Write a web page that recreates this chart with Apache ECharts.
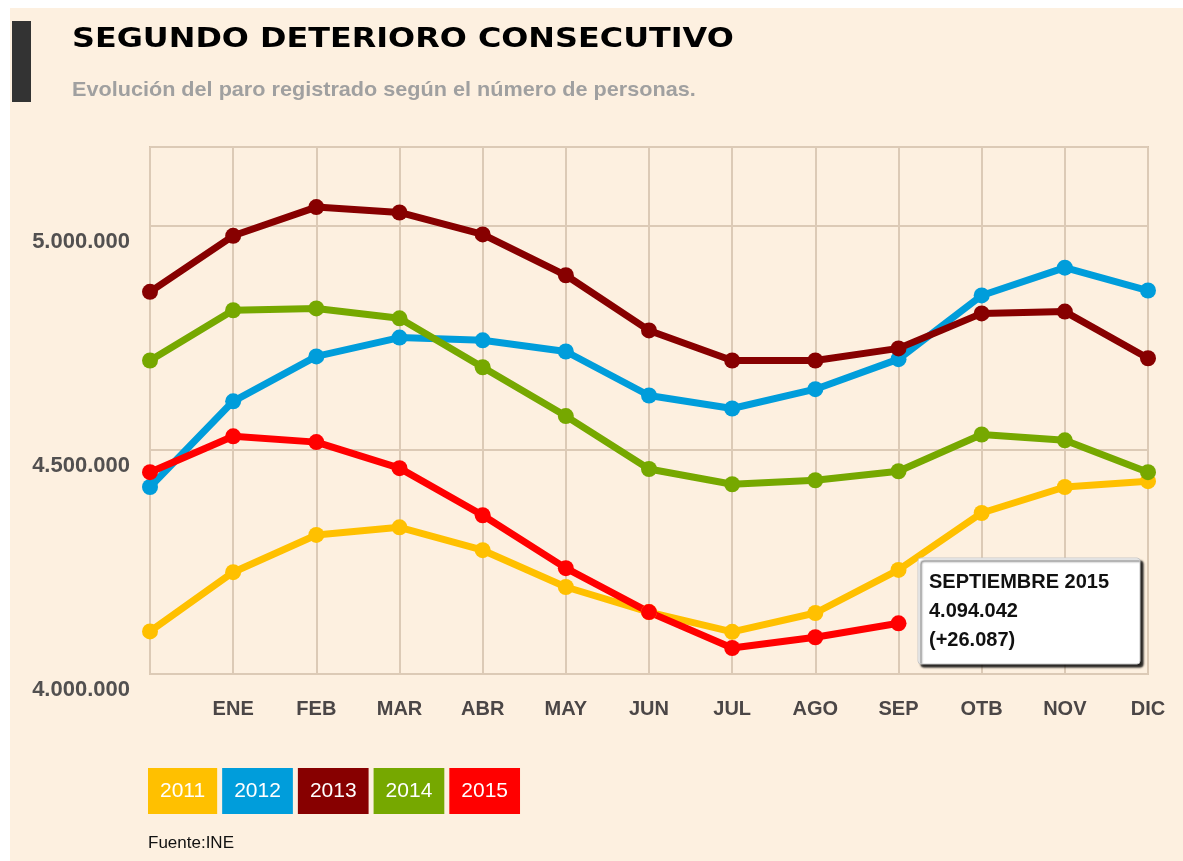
<!DOCTYPE html>
<html>
<head>
<meta charset="utf-8">
<title>Segundo deterioro consecutivo</title>
<script src="https://cdn.jsdelivr.net/npm/echarts@6/dist/echarts.min.js"></script>
<style>
	html, body { margin: 0; padding: 0; background: #fff; }
	#main { width: 1183px; height: 861px; }
</style>
</head>
<body>
<div id="main"></div>
<script>
// meses (el primero es diciembre del año anterior, sin etiqueta)
var meses = ['', 'ENE', 'FEB', 'MAR', 'ABR', 'MAY', 'JUN', 'JUL', 'AGO', 'SEP', 'OTB', 'NOV', 'DIC'];
var anios = ['2011', '2012', '2013', '2014', '2015'];
var colores = ['#FFC000', '#009DDB', '#870000', '#76A800', '#FF0000'];

// paro registrado, personas
var paro2011 = [4095000, 4227000, 4310000, 4327000, 4276000, 4194000, 4138000, 4094000, 4136000, 4232000, 4359000, 4417000, 4430000];
var paro2012 = [4417000, 4608000, 4708000, 4750000, 4744000, 4719000, 4621000, 4592000, 4635000, 4702000, 4844000, 4906000, 4855000];
var paro2013 = [4852000, 4977000, 5041000, 5029000, 4980000, 4889000, 4766000, 4699000, 4699000, 4726000, 4804000, 4808000, 4704000];
var paro2014 = [4699000, 4811000, 4815000, 4793000, 4684000, 4575000, 4457000, 4423000, 4432000, 4452000, 4534000, 4521000, 4450000];
var paro2015 = [4450000, 4530000, 4517000, 4459000, 4354000, 4236000, 4138000, 4058000, 4082000, 4113000];

// ticks del eje y
var yMin = 4000000;
var yMax = 5175000;
var yPaso = 500000;

var notaSep = ['SEPTIEMBRE 2015', '4.094.042', '(+26.087)'];

function puntos(n) {
	return String(n).replace(/\B(?=(\d{3})+(?!\d))/g, '.');
}

var myChart = echarts.init(document.getElementById('main'));
var datos = [paro2011, paro2012, paro2013, paro2014, paro2015];
var gridColor = '#dccab6';

var option = {
	backgroundColor: '#FDF0E0',
	animation: false,
	grid: {
		left: 150,
		right: 35,
		top: 147,
		bottom: 187,
		show: true,
		borderColor: '#d6c3ad',
		borderWidth: 2
	},
	legend: {
		left: 143,
		top: 768,
		padding: 0,
		orient: 'horizontal',
		itemWidth: 0,
		itemHeight: 46,
		itemGap: 0,
		selectedMode: false,
		data: anios.map(function (a, i) {
			return {
				name: a,
				icon: 'none',
				textStyle: {
					color: '#fff',
					fontSize: 21,
					fontFamily: 'Liberation Sans',
					backgroundColor: colores[i],
					padding: [13, 12, 12, 12],
					lineHeight: 21
				}
			};
		})
	},
	xAxis: {
		type: 'category',
		boundaryGap: false,
		data: meses,
		axisLine: { lineStyle: { color: gridColor, width: 2 } },
		axisTick: { show: false },
		splitLine: { show: true, lineStyle: { color: gridColor, width: 2 } },
		axisLabel: {
			interval: 0,
			margin: 25,
			color: '#4b4646',
			fontSize: 20,
			fontWeight: 'bold',
			fontFamily: 'Liberation Sans'
		}
	},
	yAxis: {
		type: 'value',
		min: yMin,
		max: yMax,
		interval: yPaso,
		axisLine: { show: false },
		axisTick: { show: false },
		splitLine: { show: true, lineStyle: { color: gridColor, width: 2 } },
		axisLabel: {
			margin: 20,
			color: '#525050',
			fontSize: 22,
			fontWeight: 'bold',
			fontFamily: 'Liberation Sans',
			verticalAlign: 'top',
			lineHeight: 32,
			formatter: function (v) {
				return v % yPaso === 0 ? puntos(v) : '';
			}
		}
	},
	series: anios.map(function (a, i) {
		return {
			name: a,
			type: 'line',
			data: datos[i],
			symbol: 'circle',
			symbolSize: 16,
			lineStyle: { width: 7, color: colores[i] },
			itemStyle: { color: colores[i] },
			emphasis: { disabled: true }
		};
	}),
	graphic: [
		// bordes blancos de la imagen
		{ type: 'rect', shape: { x: 0, y: 0, width: 1183, height: 8 }, style: { fill: '#fff' } },
		{ type: 'rect', shape: { x: 0, y: 0, width: 10, height: 861 }, style: { fill: '#fff' } },
		// barra oscura del titulo
		{ type: 'rect', shape: { x: 12, y: 21, width: 19, height: 81 }, style: { fill: '#333' } },
		{
			type: 'text', x: 72, y: 40, scaleX: 1.18,
			style: {
				text: 'SEGUNDO DETERIORO CONSECUTIVO',
				fill: '#000',
				font: 'bold 27px "DejaVu Sans"',
				verticalAlign: 'middle'
			}
		},
		{
			type: 'text', x: 72, y: 90, scaleX: 1.03,
			style: {
				text: 'Evolución del paro registrado según el número de personas.',
				fill: '#a0a0a0',
				font: 'bold 21px "Liberation Sans"',
				verticalAlign: 'middle'
			}
		},
		{
			type: 'text', x: 148, y: 843,
			style: {
				text: 'Fuente:INE',
				fill: '#111',
				font: '17px "Liberation Sans"',
				verticalAlign: 'middle'
			}
		},
		// nota de septiembre 2015
		{
			type: 'rect', z: 100,
			shape: { x: 918, y: 558, width: 222, height: 106, r: 3 },
			style: {
				fill: '#fff',
				stroke: '#c8c8c8',
				lineWidth: 1,
				shadowColor: 'rgba(0,0,0,0.85)',
				shadowOffsetX: 3,
				shadowOffsetY: 3,
				shadowBlur: 2
			}
		},
		{
			type: 'text', z: 101, x: 929, y: 568,
			style: {
				text: notaSep.join('\n'),
				fill: '#111',
				font: 'bold 20px "Liberation Sans"',
				lineHeight: 29,
				verticalAlign: 'top'
			}
		}
	]
};
myChart.setOption(option);
</script>
</body>
</html>
